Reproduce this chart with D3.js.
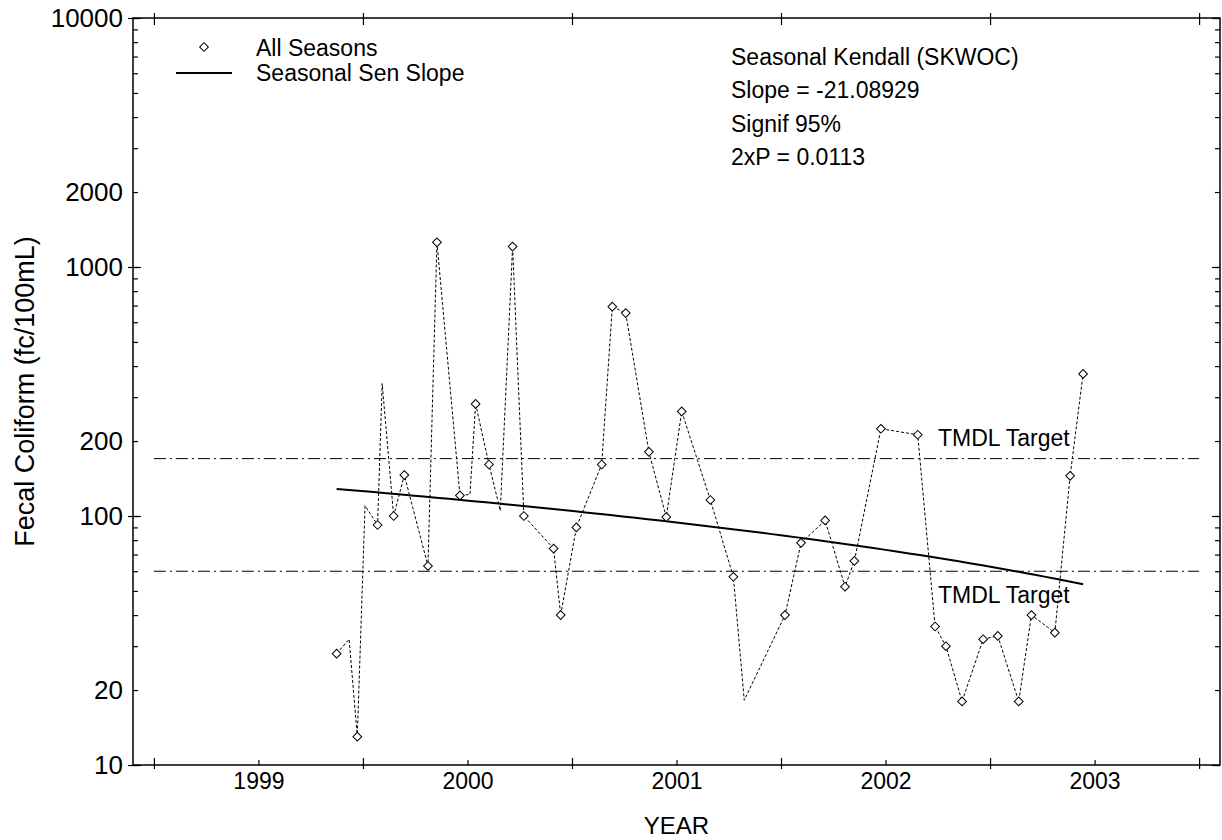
<!DOCTYPE html>
<html>
<head>
<meta charset="utf-8">
<script src="https://cdn.jsdelivr.net/npm/d3@7"></script>
<style>
  body { margin: 0; background: #fff; }
  svg { font-family: "Liberation Sans", Arial, sans-serif; }
</style>
</head>
<body>
<svg id="chart" width="1222" height="840"></svg>
<script>
// sample dates (decimal years) and fecal coliform counts
var sampleYear = [1999.874, 1999.934, 1999.973, 2000.010, 2000.070, 2000.092, 2000.147, 2000.198, 2000.311, 2000.354,
  2000.464, 2000.512, 2000.539, 2000.603, 2000.657, 2000.716, 2000.770, 2000.912, 2000.946, 2001.021,
  2001.142, 2001.193, 2001.257, 2001.368, 2001.451, 2001.525, 2001.662, 2001.772, 2001.824, 2002.019,
  2002.096, 2002.211, 2002.306, 2002.351, 2002.478, 2002.654, 2002.737, 2002.789, 2002.866, 2002.967,
  2003.037, 2003.137, 2003.198, 2003.310, 2003.383, 2003.445];
var fecalColiform = [28, 32, 13, 110, 92, 340, 100, 146, 63, 1256,
  121, 122, 282, 161, 105, 1208, 100, 74, 40, 90,
  161, 693, 653, 181, 99, 263, 116, 57, 18.2, 40,
  78, 96, 52, 66, 224, 212, 36, 30, 18, 32,
  33, 18, 40, 34, 145, 372];
// 1 = point drawn with a diamond, 0 = only a bend in the dashed line
var hasMarker = [1, 0, 1, 0, 1, 0, 1, 1, 1, 1,
  1, 0, 1, 1, 0, 1, 1, 1, 1, 1,
  1, 1, 1, 1, 1, 1, 1, 1, 0, 1,
  1, 1, 1, 1, 1, 1, 1, 1, 1, 1,
  1, 1, 1, 1, 1, 1];

// seasonal sen slope (linear in concentration)
var senYears = [1999.874, 2003.445];
var senStart = 128.5;
var senSlope = -21.08929;

var tmdlTargets = [170, 60];
var yearLabels = [1999, 2000, 2001, 2002, 2003];
var yLabelVals = [10, 20, 100, 200, 1000, 2000, 10000];
var statsText = ["Seasonal Kendall (SKWOC)", "Slope = -21.08929", "Signif 95%", "2xP = 0.0113"];

var svg = d3.select("#chart");
var pLeft = 133, pRight = 1220, pTop = 18, pBottom = 765;

var x = d3.scaleLinear().domain([1998.9, 2004.1]).range([pLeft, pRight]);
var y = d3.scaleLog().domain([10, 10000]).range([pBottom, pTop]);

var minorVals = [];
[10, 100, 1000].forEach(function(d) {
  for (var k = 1; k < 10; k++) minorVals.push(d * k);
});
minorVals.push(10000);
var majorVals = [10, 100, 1000, 10000];
var yearTicks = d3.range(1999, 2005);
var midYears = yearLabels.map(function(d) { return d + 0.5; });

// frame
svg.append("rect")
  .attr("x", pLeft).attr("y", pTop)
  .attr("width", pRight - pLeft).attr("height", pBottom - pTop)
  .attr("fill", "none").attr("stroke", "#000").attr("stroke-width", 1.5);

function ticks(g) {
  g.select(".domain").remove();
  g.selectAll(".tick line").attr("stroke", "#000").attr("stroke-width", 1.2);
}

// left axis: labels + short outward ticks on decades
svg.append("g").attr("transform", "translate(" + pLeft + ",0)")
  .call(d3.axisLeft(y).tickValues(yLabelVals).tickFormat(d3.format("d")).tickSize(0).tickPadding(10))
  .call(ticks)
  .selectAll("text").attr("font-size", 26).attr("fill", "#000");
svg.append("g").attr("transform", "translate(" + pLeft + ",0)")
  .call(d3.axisLeft(y).tickValues(majorVals).tickFormat("").tickSize(5)).call(ticks);
// inward ticks left and right
svg.append("g").attr("transform", "translate(" + pLeft + ",0)")
  .call(d3.axisRight(y).tickValues(minorVals).tickFormat("").tickSize(5)).call(ticks);
svg.append("g").attr("transform", "translate(" + pLeft + ",0)")
  .call(d3.axisRight(y).tickValues(majorVals).tickFormat("").tickSize(8)).call(ticks);
svg.append("g").attr("transform", "translate(" + pRight + ",0)")
  .call(d3.axisLeft(y).tickValues(minorVals).tickFormat("").tickSize(5)).call(ticks);
svg.append("g").attr("transform", "translate(" + pRight + ",0)")
  .call(d3.axisLeft(y).tickValues(majorVals).tickFormat("").tickSize(8)).call(ticks);

// bottom axis: year boundaries cross the frame, labels at mid-year
svg.append("g").attr("transform", "translate(0," + pBottom + ")")
  .call(d3.axisBottom(x).tickValues(midYears).tickFormat(function(d) { return Math.floor(d); }).tickSize(0).tickPadding(8))
  .call(ticks)
  .selectAll("text").attr("font-size", 23).attr("fill", "#000");
svg.append("g").attr("transform", "translate(0," + pBottom + ")")
  .call(d3.axisTop(x).tickValues(midYears).tickFormat("").tickSize(5)).call(ticks);
svg.append("g").attr("transform", "translate(0," + pBottom + ")")
  .call(d3.axisTop(x).tickValues(yearTicks).tickFormat("").tickSize(7)).call(ticks);
svg.append("g").attr("transform", "translate(0," + pBottom + ")")
  .call(d3.axisBottom(x).tickValues(yearTicks).tickFormat("").tickSize(4)).call(ticks);
svg.append("g").attr("transform", "translate(0," + pTop + ")")
  .call(d3.axisTop(x).tickValues(yearTicks).tickFormat("").tickSize(5)).call(ticks);
svg.append("g").attr("transform", "translate(0," + pTop + ")")
  .call(d3.axisBottom(x).tickValues(yearTicks).tickFormat("").tickSize(7)).call(ticks);

// axis titles
svg.append("text")
  .attr("transform", "translate(34," + ((pTop + pBottom) / 2) + ") rotate(-90)")
  .attr("text-anchor", "middle").attr("font-size", 27)
  .text("Fecal Coliform (fc/100mL)");
svg.append("text")
  .attr("x", (pLeft + pRight) / 2).attr("y", 834)
  .attr("text-anchor", "middle").attr("font-size", 24)
  .text("YEAR");

// TMDL target lines
svg.selectAll(".tmdl").data(tmdlTargets).enter().append("line")
  .attr("class", "tmdl")
  .attr("x1", x(1999)).attr("x2", x(2004))
  .attr("y1", function(d) { return y(d); }).attr("y2", function(d) { return y(d); })
  .attr("stroke", "#000").attr("stroke-width", 1)
  .attr("stroke-dasharray", "12,4,2,4");
svg.append("text").attr("x", 938).attr("y", y(tmdlTargets[0]) - 13)
  .attr("font-size", 23).text("TMDL Target");
svg.append("text").attr("x", 938).attr("y", y(tmdlTargets[1]) + 32)
  .attr("font-size", 23).text("TMDL Target");

// data line
var pts = sampleYear.map(function(t, i) {
  return { t: t, v: fecalColiform[i], m: hasMarker[i] };
});
var line = d3.line()
  .x(function(d) { return x(d.t); })
  .y(function(d) { return y(d.v); });

svg.append("path").datum(pts)
  .attr("d", line)
  .attr("fill", "none").attr("stroke", "#000").attr("stroke-width", 1)
  .attr("stroke-dasharray", "3,2");

// sen slope
var senPts = d3.range(0, 61).map(function(k) {
  var t = senYears[0] + (senYears[1] - senYears[0]) * k / 60;
  return { t: t, v: senStart + senSlope * (t - senYears[0]) };
});
svg.append("path").datum(senPts)
  .attr("d", line)
  .attr("fill", "none").attr("stroke", "#000").attr("stroke-width", 2);

// diamonds
var diamond = d3.symbol().type(d3.symbolSquare).size(38);
svg.selectAll(".pt").data(pts.filter(function(d) { return d.m; })).enter().append("path")
  .attr("class", "pt")
  .attr("d", diamond)
  .attr("transform", function(d) { return "translate(" + x(d.t) + "," + y(d.v) + ") rotate(45)"; })
  .attr("fill", "#fff").attr("stroke", "#000").attr("stroke-width", 1);

// legend
svg.append("path").attr("d", diamond)
  .attr("transform", "translate(204,47) rotate(45)")
  .attr("fill", "#fff").attr("stroke", "#000").attr("stroke-width", 1);
svg.append("line").attr("x1", 176).attr("x2", 232).attr("y1", 73).attr("y2", 73)
  .attr("stroke", "#000").attr("stroke-width", 2);
svg.append("text").attr("x", 256).attr("y", 56).attr("font-size", 23).text("All Seasons");
svg.append("text").attr("x", 256).attr("y", 81).attr("font-size", 23).text("Seasonal Sen Slope");

// stats block
svg.selectAll(".stat").data(statsText).enter().append("text")
  .attr("class", "stat")
  .attr("x", 731)
  .attr("y", function(d, i) { return 65 + i * 33.3; })
  .attr("font-size", 23)
  .text(function(d) { return d; });
</script>
</body>
</html>
